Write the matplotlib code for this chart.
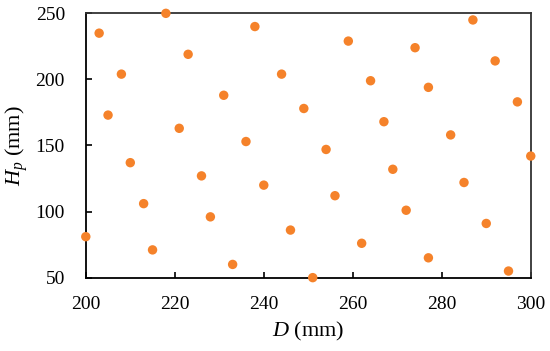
import numpy as np
import matplotlib.pyplot as plt

# --- sample points (D in mm, Hp in mm) ---
D = [203, 218, 238, 223, 208, 244, 231, 205, 221, 236, 210, 226,
     287, 259, 274, 292, 264, 277, 297, 249, 267, 282, 254, 300, 269, 285,
     240, 213, 228, 200, 215, 233,
     256, 272, 290, 246, 262, 277, 295, 251]
Hp = [235, 250, 240, 219, 204, 204, 188, 173, 163, 153, 137, 127,
      245, 229, 224, 214, 199, 194, 183, 178, 168, 158, 147, 142, 132, 122,
      120, 106, 96, 81, 71, 60,
      112, 101, 91, 86, 76, 65, 55, 50]

x_ticks = [200, 220, 240, 260, 280, 300]
y_ticks = [50, 100, 150, 200, 250]

plt.rcParams['font.family'] = ['Liberation Serif', 'DejaVu Serif']
plt.rcParams['mathtext.fontset'] = 'custom'
plt.rcParams['mathtext.it'] = 'Liberation Serif:italic'
plt.rcParams['mathtext.rm'] = 'Liberation Serif'

fig = plt.figure(figsize=(5.5, 3.51), dpi=100)
ax = fig.add_axes([0.156, 0.209, 0.809, 0.753])

ax.scatter(D, Hp, s=46, color='#F5822A', edgecolors='none', zorder=3, clip_on=False)

ax.set_xlim(200, 300)
ax.set_ylim(50, 250)
ax.set_xticks(x_ticks)
ax.set_yticks(y_ticks)
ax.tick_params(direction='in', length=4, width=1.2, labelsize=14)
ax.tick_params(axis='x', pad=13)
ax.tick_params(axis='y', pad=15)

for s in ax.spines.values():
    s.set_linewidth(1.3)
ax.spines['top'].set_color('#333333')
ax.spines['right'].set_color('#333333')

ax.set_xlabel(r'$D$ (mm)', fontsize=16, labelpad=5)
ax.set_ylabel(r'$H_p$ (mm)', fontsize=16, labelpad=4)

fig.savefig('out.png', dpi=100)
